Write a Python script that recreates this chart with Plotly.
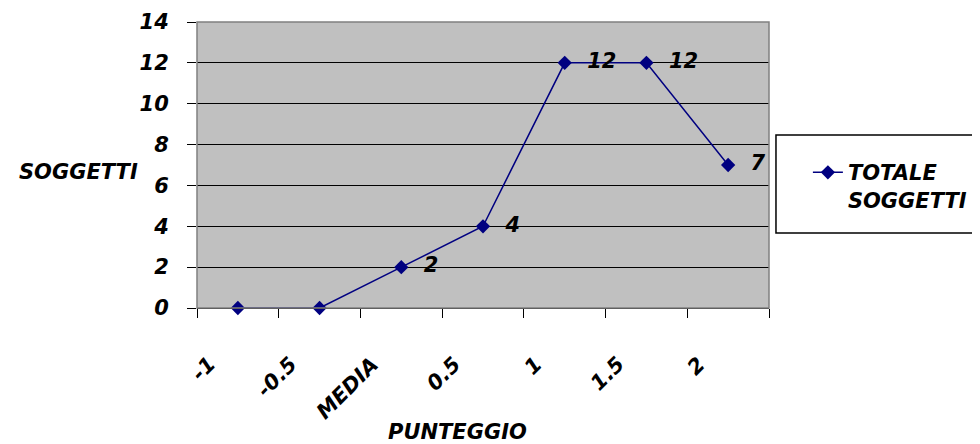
import plotly.graph_objects as go

categories = ["-1", "-0.5", "MEDIA", "0.5", "1", "1.5", "2"]
values = [0, 0, 2, 4, 12, 12, 7]
labels = ["", "", "2", "4", "12", "12", "7"]
series_name = "TOTALE<br>SOGGETTI"
y_ticks = [0, 2, 4, 6, 8, 10, 12, 14]

FONT = "Comic Sans MS, DejaVu Sans, sans-serif"
NAVY = "#000080"
SZ = 21
tf = dict(family=FONT, size=SZ, color="black", weight="bold", style="italic")

fig = go.Figure()
fig.add_trace(go.Scatter(
    x=categories, y=values, mode="lines+markers+text",
    name=series_name,
    line=dict(color=NAVY, width=1.5),
    marker=dict(symbol="diamond", size=11, color=NAVY),
    text=["  " + t if t else "" for t in labels],
    textposition="middle right",
    textfont=tf,
    cliponaxis=False,
))

annotations = [
    dict(text="SOGGETTI", xref="paper", yref="paper", x=-0.0997, y=0.4755,
         xanchor="right", yanchor="middle", showarrow=False, font=tf),
    dict(text="PUNTEGGIO", xref="paper", yref="paper", x=0.455, y=-0.4336,
         xanchor="center", yanchor="middle", showarrow=False, font=tf),
]
for i, c in enumerate(categories):
    annotations.append(dict(text=c, x=i, xref="x", yref="paper", y=-0.145,
                            xanchor="right", yanchor="top", xshift=-15,
                            textangle=-45, showarrow=False, font=tf))

fig.update_layout(
    width=972, height=436,
    margin=dict(l=189, r=211, t=14, b=136, autoexpand=False),
    paper_bgcolor="white", plot_bgcolor="#C0C0C0",
    font=tf,
    showlegend=True,
    legend=dict(x=1.068, y=0.545, xanchor="left", yanchor="top",
                borderwidth=0, bgcolor="rgba(0,0,0,0)",
                font=tf, valign="top"),
    xaxis=dict(type="category", range=[-0.5, 6.5], tickson="boundaries",
               ticks="outside", ticklen=9, tickcolor="black",
               showline=True, linecolor="black", linewidth=1,
               showgrid=False, showticklabels=False),
    yaxis=dict(range=[0, 14], tickvals=y_ticks, ticks="outside", ticklen=9,
               tickcolor="black", showline=False, zeroline=False,
               showgrid=True, gridcolor="black", gridwidth=1,
               ticklabelstandoff=14, tickfont=tf),
    shapes=[
        dict(type="rect", xref="paper", yref="paper", x0=0, x1=1, y0=0, y1=1,
             line=dict(color="#808080", width=1.5), layer="above"),
        dict(type="path", xref="paper", yref="paper",
             path="M 1.6 0.605 L 1.0122 0.605 L 1.0122 0.262 L 1.6 0.262",
             line=dict(color="black", width=1.5), layer="below"),
    ],
    annotations=annotations,
)

fig.write_html("out.html")
